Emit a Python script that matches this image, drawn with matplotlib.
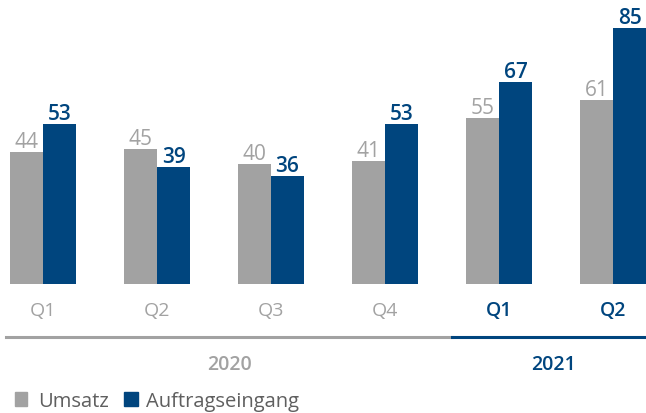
import matplotlib
matplotlib.use("Agg")
import matplotlib.pyplot as plt
from matplotlib.lines import Line2D
from matplotlib.patches import Rectangle

quarters = ["Q1", "Q2", "Q3", "Q4", "Q1", "Q2"]
years = ["2020", "2020", "2020", "2020", "2021", "2021"]
umsatz = [44, 45, 40, 41, 55, 61]
auftrag = [53, 39, 36, 53, 67, 85]

GRAY = "#a2a2a2"
BLUE = "#00457e"
plt.rcParams["font.family"] = ["Open Sans", "DejaVu Sans"]

W, H = 646, 414
fig = plt.figure(figsize=(W / 100, H / 100), dpi=100)
ax = fig.add_axes([0, 1 - 285 / H, 1, 285 / H])
ax.set_xlim(-43 / 114, (W - 43) / 114)
ax.set_ylim(0, 285 / 3.01)
ax.axis("off")

bw = 0.29
x = list(range(len(quarters)))
ax.bar([i - bw / 2 for i in x], umsatz, bw, color=GRAY)
ax.bar([i + bw / 2 for i in x], auftrag, bw, color=BLUE)
for i in x:
    ax.annotate(str(umsatz[i]), (i - bw / 2, umsatz[i]), xytext=(0, 0),
                textcoords="offset points", ha="center", va="bottom",
                fontsize=15, color=GRAY)
    ax.annotate(str(auftrag[i]), (i + bw / 2, auftrag[i]), xytext=(0, 0),
                textcoords="offset points", ha="center", va="bottom",
                fontsize=15, color=BLUE, fontweight="semibold")

# quarter labels below the bars
for i, q in enumerate(quarters):
    xf = (43 + 114 * i) / W
    is21 = years[i] == "2021"
    fig.text(xf, 1 - 311 / H, q, ha="center", va="center", fontsize=14,
             color=BLUE if is21 else GRAY,
             fontweight="semibold" if is21 else "normal")

# year separators
ly = 1 - 338 / H
fig.add_artist(Line2D([6 / W, 452 / W], [ly, ly], color=GRAY, lw=2.2))
fig.add_artist(Line2D([452 / W, 1], [ly, ly], color=BLUE, lw=2.2))
fig.text(229 / W, 1 - 365 / H, "2020", ha="center", va="center",
         fontsize=14, color=GRAY, fontweight="semibold")
fig.text(553 / W, 1 - 365 / H, "2021", ha="center", va="center",
         fontsize=14, color=BLUE, fontweight="semibold")

# legend
lyf = 1 - 402 / H
fig.add_artist(Rectangle((15 / W, 1 - 407 / H), 12 / W, 14 / H,
                         color=GRAY, transform=fig.transFigure))
fig.text(38 / W, lyf, "Umsatz", ha="left", va="center", fontsize=14.5, color="#5f5f5f")
fig.add_artist(Rectangle((124 / W, 1 - 407 / H), 14 / W, 14 / H,
                         color=BLUE, transform=fig.transFigure))
fig.text(146 / W, lyf, "Auftragseingang", ha="left", va="center", fontsize=14.5, color="#5f5f5f")

fig.savefig("out.png", dpi=100)
